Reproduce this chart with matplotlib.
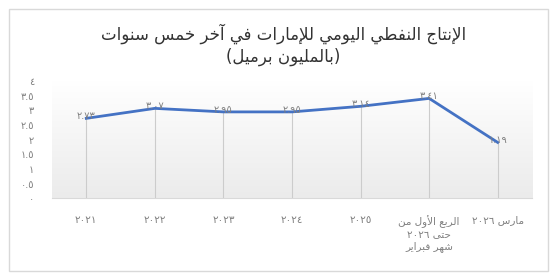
import re
import numpy as np
import matplotlib
matplotlib.use('Agg')
import matplotlib.pyplot as plt
from matplotlib.colors import LinearSegmentedColormap
from matplotlib.patches import Rectangle

# data
categories = ['٢٠٢١', '٢٠٢٢', '٢٠٢٣', '٢٠٢٤', '٢٠٢٥',
              'الربع الأول من\nحتى ٢٠٢٦\nشهر فبراير', 'مارس ٢٠٢٦']
values = [2.73, 3.07, 2.95, 2.95, 3.14, 3.41, 1.91]
value_labels = ['٢.٧٣', '٣.٠٧', '٢.٩٥', '٢.٩٥', '٣.١٤', '٣.٤١', '١.١٩']
y_ticks = [0, 0.5, 1, 1.5, 2, 2.5, 3, 3.5, 4]
y_tick_labels = ['٠', '٠.٥', '١', '١.٥', '٢', '٢.٥', '٣', '٣.٥', '٤']
title = 'الإنتاج النفطي اليومي للإمارات في آخر خمس سنوات\n(بالمليون برميل)'

# small arabic shaper (matplotlib does no contextual shaping)
# isolated, final, initial, medial
FORMS = {
    'ا': (0xFE8D, 0xFE8E, None, None),
    'أ': (0xFE83, 0xFE84, None, None),
    'إ': (0xFE87, 0xFE88, None, None),
    'آ': (0xFE81, 0xFE82, None, None),
    'ب': (0xFE8F, 0xFE90, 0xFE91, 0xFE92),
    'ت': (0xFE95, 0xFE96, 0xFE97, 0xFE98),
    'ج': (0xFE9D, 0xFE9E, 0xFE9F, 0xFEA0),
    'ح': (0xFEA1, 0xFEA2, 0xFEA3, 0xFEA4),
    'خ': (0xFEA5, 0xFEA6, 0xFEA7, 0xFEA8),
    'ر': (0xFEAD, 0xFEAE, None, None),
    'س': (0xFEB1, 0xFEB2, 0xFEB3, 0xFEB4),
    'ش': (0xFEB5, 0xFEB6, 0xFEB7, 0xFEB8),
    'ط': (0xFEC1, 0xFEC2, 0xFEC3, 0xFEC4),
    'ع': (0xFEC9, 0xFECA, 0xFECB, 0xFECC),
    'ف': (0xFED1, 0xFED2, 0xFED3, 0xFED4),
    'ل': (0xFEDD, 0xFEDE, 0xFEDF, 0xFEE0),
    'م': (0xFEE1, 0xFEE2, 0xFEE3, 0xFEE4),
    'ن': (0xFEE5, 0xFEE6, 0xFEE7, 0xFEE8),
    'ه': (0xFEE9, 0xFEEA, 0xFEEB, 0xFEEC),
    'و': (0xFEED, 0xFEEE, None, None),
    'ى': (0xFEEF, 0xFEF0, None, None),
    'ي': (0xFEF1, 0xFEF2, 0xFEF3, 0xFEF4),
}
LAM_ALEF = {'آ': (0xFEF5, 0xFEF6), 'أ': (0xFEF7, 0xFEF8),
            'إ': (0xFEF9, 0xFEFA), 'ا': (0xFEFB, 0xFEFC)}
MIRROR = {'(': ')', ')': '('}


def shape_run(s):
    items = []
    i = 0
    while i < len(s):
        c = s[i]
        if c == 'ل' and i + 1 < len(s) and s[i + 1] in LAM_ALEF:
            items.append(('LA', s[i + 1]))
            i += 2
        else:
            items.append(('C', c))
            i += 1

    def is_letter(it):
        return it[0] == 'LA' or it[1] in FORMS

    def dual(it):
        return it[0] == 'C' and it[1] in FORMS and FORMS[it[1]][2] is not None

    out = []
    for k, it in enumerate(items):
        if not is_letter(it):
            out.append(it[1])
            continue
        prev_j = k > 0 and dual(items[k - 1])
        next_j = k + 1 < len(items) and is_letter(items[k + 1])
        if it[0] == 'LA':
            iso, fin = LAM_ALEF[it[1]]
            out.append(chr(fin if prev_j else iso))
            continue
        f = FORMS[it[1]]
        if f[2] is None:
            out.append(chr(f[1] if prev_j else f[0]))
        elif prev_j and next_j:
            out.append(chr(f[3]))
        elif prev_j:
            out.append(chr(f[1]))
        elif next_j:
            out.append(chr(f[2]))
        else:
            out.append(chr(f[0]))
    return ''.join(out)


# tokens: digit runs stay left-to-right, everything else goes right-to-left
TOKEN = re.compile('[\u0660-\u0669.0-9]+|.', re.S)


def ar_line(line):
    toks = TOKEN.findall(line)
    shaped = []
    buf = ''
    for t in toks:
        if len(t) == 1 and not t.isdigit() and t not in '\u0660\u0661\u0662\u0663\u0664\u0665\u0666\u0667\u0668\u0669':
            buf += t
        else:
            if buf:
                shaped.append(('r', shape_run(buf)))
                buf = ''
            shaped.append(('d', t))
    if buf:
        shaped.append(('r', shape_run(buf)))
    out = ''
    for kind, t in reversed(shaped):
        if kind == 'r':
            out += ''.join(MIRROR.get(c, c) for c in t[::-1])
        else:
            out += t
    return out


def ar(text):
    return '\n'.join(ar_line(ln) for ln in text.split('\n'))


plt.rcParams['font.family'] = ['DejaVu Sans']

fig = plt.figure(figsize=(5.53, 2.73), dpi=100)
fig.patch.set_facecolor('white')
fig.patches.append(Rectangle((0.016, 0.007), 0.975, 0.960, transform=fig.transFigure,
                             fill=False, edgecolor='#d9d9d9', linewidth=1))

ax = fig.add_axes([0.094, 0.273, 0.868, 0.430])
x = np.arange(len(categories))

grad = LinearSegmentedColormap.from_list('g', ['#ebebeb', '#ffffff'])
ax.imshow(np.linspace(0, 1, 256).reshape(-1, 1), cmap=grad, origin='lower',
          extent=[-0.5, len(categories) - 0.5, 0, 4], aspect='auto', zorder=0)

ax.vlines(x, 0, values, color='#cccccc', linewidth=0.8, zorder=1)
ax.plot(x, values, color='#4472c4', linewidth=2.0, zorder=3)

for xi, v, lab in zip(x, values, value_labels):
    ax.text(xi, v + 0.08, lab, ha='center', va='center', fontsize=7,
            color='#7f7f7f', zorder=4)

ax.set_xlim(-0.5, len(categories) - 0.5)
ax.set_ylim(0, 4)
ax.set_yticks(y_ticks)
ax.set_yticklabels(y_tick_labels)
ax.set_xticks(x)
ax.set_xticklabels([ar(c) for c in categories], multialignment='center')
ax.tick_params(axis='y', length=0, pad=13, labelsize=7, labelcolor='#7f7f7f')
ax.tick_params(axis='x', length=0, pad=12, labelsize=7.5, labelcolor='#7f7f7f')
for s in ['top', 'right', 'left']:
    ax.spines[s].set_visible(False)
ax.spines['bottom'].set_color('#d9d9d9')

fig.text(0.512, 0.837, ar(title), ha='center', va='center', fontsize=12,
         color='#333333', linespacing=1.25)

fig.savefig('out.png', dpi=100)
